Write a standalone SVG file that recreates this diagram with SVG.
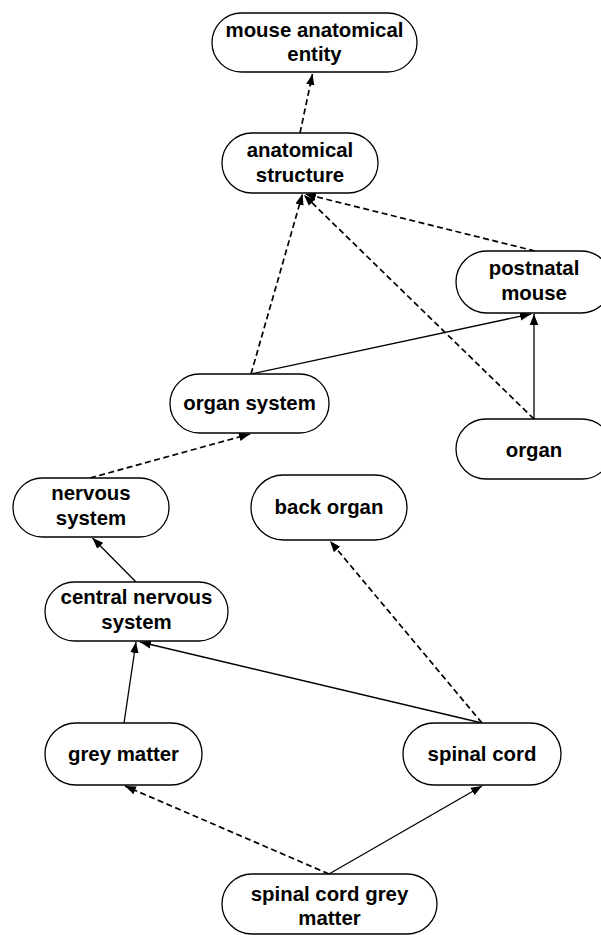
<svg xmlns="http://www.w3.org/2000/svg" width="601" height="935" viewBox="0 0 601 935">
  <style>
    .node rect { fill: #ffffff; stroke: #000000; stroke-width: 1.3; }
    .node text { font-family: "Liberation Sans", Arial, sans-serif; font-weight: bold; font-size: 20.4px; fill: #000000; text-anchor: middle; }
    .edge { fill: none; stroke: #000000; }
    .isa { stroke-width: 1.3; marker-end: url(#arrow); }
    .partof { stroke-width: 1.7; stroke-dasharray: 6 3.5; marker-end: url(#arrow); }
  </style>
  <defs>
    <marker id="arrow" markerUnits="userSpaceOnUse" markerWidth="12" markerHeight="10" refX="11" refY="5" orient="auto">
      <path d="M0,0.8 L11,5 L0,9.2 Z" fill="#000000" stroke="none"/>
    </marker>
  </defs>
  <rect width="601" height="935" fill="#ffffff"/>

  <!-- connectors -->
  <g id="edges">
    <line class="edge partof" x1="300" y1="133" x2="312.5" y2="74"/>
    <line class="edge partof" x1="251" y1="374" x2="302.5" y2="194"/>
    <line class="edge partof" x1="535" y1="251" x2="305" y2="194"/>
    <line class="edge partof" x1="534" y1="419" x2="304" y2="195"/>
    <line class="edge isa" x1="251" y1="374" x2="531" y2="314"/>
    <line class="edge isa" x1="534" y1="419" x2="534" y2="314"/>
    <line class="edge partof" x1="90" y1="478" x2="250" y2="434"/>
    <line class="edge isa" x1="136" y1="582" x2="92.5" y2="538"/>
    <line class="edge isa" x1="124" y1="723" x2="136" y2="642"/>
    <line class="edge isa" x1="482" y1="723" x2="140" y2="642"/>
    <line class="edge partof" x1="482" y1="723" x2="330" y2="541"/>
    <line class="edge partof" x1="329" y1="874" x2="125" y2="786"/>
    <line class="edge isa" x1="329" y1="874" x2="482" y2="786"/>
  </g>

  <!-- nodes -->
  <g id="mouse-anatomical-entity" class="node">
    <rect x="212" y="13" width="205" height="59" rx="29.5"/>
    <text x="314.5" y="36.5">mouse anatomical</text>
    <text x="314.5" y="61">entity</text>
  </g>
  <g id="anatomical-structure" class="node">
    <rect x="222" y="133" width="156" height="60" rx="30"/>
    <text x="300" y="157.3">anatomical</text>
    <text x="300" y="181.7">structure</text>
  </g>
  <g id="postnatal-mouse" class="node">
    <rect x="456" y="251" width="156" height="62" rx="31"/>
    <text x="534" y="275">postnatal</text>
    <text x="534" y="300">mouse</text>
  </g>
  <g id="organ-system" class="node">
    <rect x="170" y="374" width="159" height="59" rx="29.5"/>
    <text x="249.5" y="410">organ system</text>
  </g>
  <g id="organ" class="node">
    <rect x="456" y="419" width="156" height="60" rx="30"/>
    <text x="534" y="456.5">organ</text>
  </g>
  <g id="nervous-system" class="node">
    <rect x="13" y="478" width="156" height="59" rx="29.5"/>
    <text x="91" y="500">nervous</text>
    <text x="91" y="525">system</text>
  </g>
  <g id="back-organ" class="node">
    <rect x="251" y="475" width="156" height="65" rx="32.5"/>
    <text x="329" y="513.5">back organ</text>
  </g>
  <g id="central-nervous-system" class="node">
    <rect x="45" y="582" width="183" height="59" rx="29.5"/>
    <text x="136.5" y="604">central nervous</text>
    <text x="136.5" y="629">system</text>
  </g>
  <g id="grey-matter" class="node">
    <rect x="45" y="723" width="157" height="62" rx="31"/>
    <text x="123.5" y="760.5">grey matter</text>
  </g>
  <g id="spinal-cord" class="node">
    <rect x="403" y="723" width="158" height="62" rx="31"/>
    <text x="482" y="760.5">spinal cord</text>
  </g>
  <g id="spinal-cord-grey-matter" class="node">
    <rect x="222" y="874" width="215" height="60" rx="30"/>
    <text x="329.5" y="901">spinal cord grey</text>
    <text x="329.5" y="925">matter</text>
  </g>
</svg>
